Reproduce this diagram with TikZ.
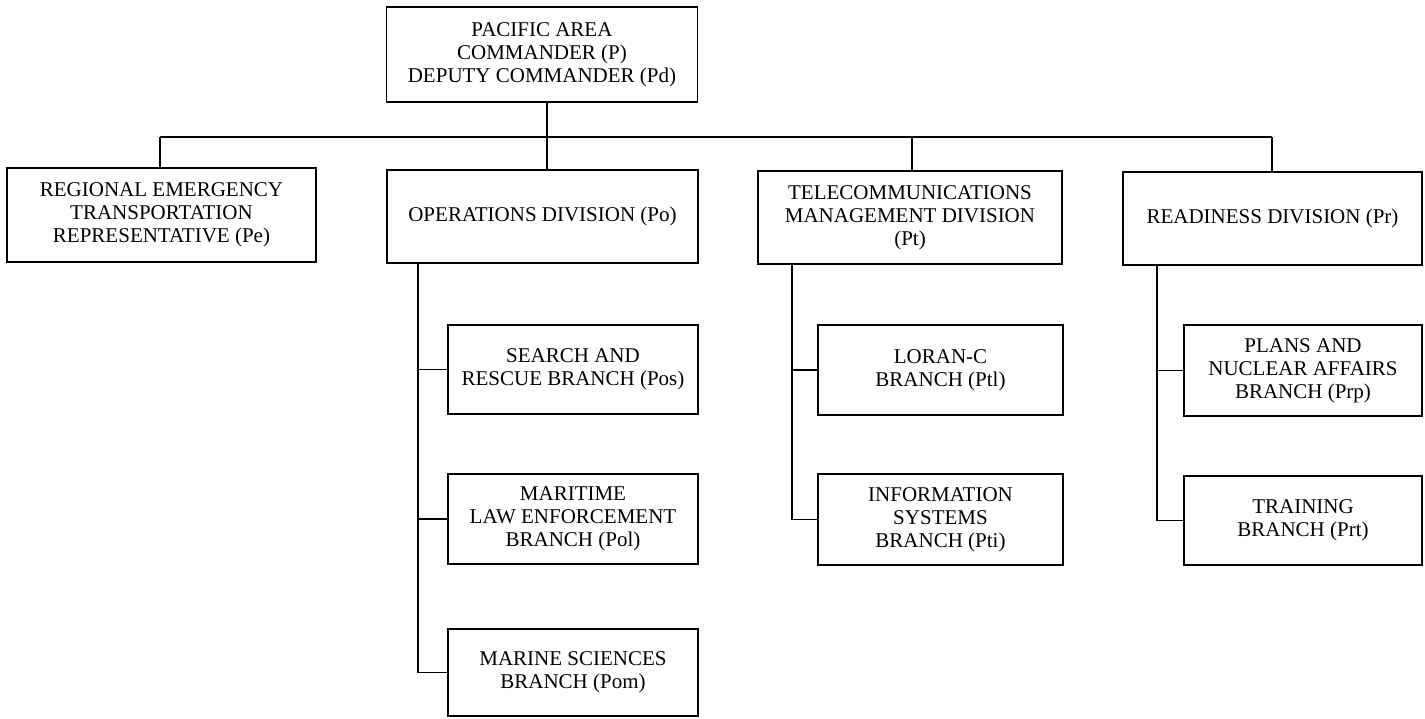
\documentclass[tikz,border=0pt]{standalone}
\usepackage{fontspec}
\setmainfont{Liberation Serif}
\begin{document}
\begin{tikzpicture}[x=1pt,y=-1pt,
  unit/.style={draw, line width=1.7pt, align=center, inner sep=0pt,
    font=\fontsize{21}{23}\selectfont},
  link/.style={line width=1.8pt}]
\useasboundingbox (0,0) rectangle (1425,718);

% headquarters
\node[unit, minimum width=311pt, minimum height=95pt] (P) at (542,54.5)
  {PACIFIC AREA\\COMMANDER (P)\\DEPUTY COMMANDER (Pd)};

% divisions
\node[unit, minimum width=309pt, minimum height=94pt] (Pe) at (161.5,215)
  {REGIONAL EMERGENCY\\TRANSPORTATION\\REPRESENTATIVE (Pe)};
\node[unit, minimum width=311pt, minimum height=93pt] (Po) at (542.5,216.5)
  {OPERATIONS DIVISION (Po)};
\node[unit, minimum width=304pt, minimum height=93pt] (Pt) at (910,217.5)
  {TELECOMMUNICATIONS\\MANAGEMENT DIVISION\\(Pt)};
\node[unit, minimum width=299pt, minimum height=93pt] (Pr) at (1272.5,218.5)
  {READINESS DIVISION (Pr)};

% branches of operations
\node[unit, minimum width=250pt, minimum height=89pt] (Pos) at (573,369.5)
  {SEARCH AND\\RESCUE BRANCH (Pos)};
\node[unit, minimum width=250pt, minimum height=90pt] (Pol) at (573,519)
  {MARITIME\\LAW ENFORCEMENT\\BRANCH (Pol)};
\node[unit, minimum width=250pt, minimum height=87pt] (Pom) at (573,672.5)
  {MARINE SCIENCES\\BRANCH (Pom)};

% branches of telecommunications
\node[unit, minimum width=245pt, minimum height=90pt] (Ptl) at (940.5,370)
  {LORAN-C\\BRANCH (Ptl)};
\node[unit, minimum width=245pt, minimum height=91pt] (Pti) at (940.5,519.5)
  {INFORMATION\\SYSTEMS\\BRANCH (Pti)};

% branches of readiness
\node[unit, minimum width=238pt, minimum height=91pt] (Prp) at (1303,370.5)
  {PLANS AND\\NUCLEAR AFFAIRS\\BRANCH (Prp)};
\node[unit, minimum width=238pt, minimum height=89pt] (Prt) at (1303,520.5)
  {TRAINING\\BRANCH (Prt)};

% trunk and bus
\coordinate (trunk) at (547,137);
\coordinate (busL) at (160,137);
\coordinate (busR) at (1272,137);
\draw[link] (P.south -| trunk) -- (trunk);
\draw[link] (busL) -- (busR);
\draw[link] (busL) -- (Pe.north -| busL);
\draw[link] (trunk) -- (Po.north -| trunk);
\draw[link] (912,137) -- (Pt.north -| 912,0);
\draw[link] (busR) -- (Pr.north -| busR);

% spines to branches
\coordinate (so) at (418,0);
\coordinate (st) at (792,0);
\coordinate (sr) at (1157,0);
\draw[link] (Po.south -| so) |- (Pom.west);
\draw[link] (so |- Pos.west) -- (Pos.west);
\draw[link] (so |- Pol.west) -- (Pol.west);
\draw[link] (Pt.south -| st) |- (Pti.west);
\draw[link] (st |- Ptl.west) -- (Ptl.west);
\draw[link] (Pr.south -| sr) |- (Prt.west);
\draw[link] (sr |- Prp.west) -- (Prp.west);
\end{tikzpicture}
\end{document}
